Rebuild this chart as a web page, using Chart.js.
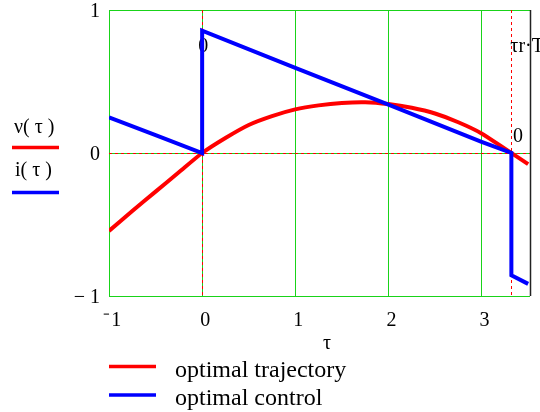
<!DOCTYPE html>
<html>
<head>
<meta charset="utf-8">
<script src="https://cdn.jsdelivr.net/npm/chart.js@4.4.1/dist/chart.umd.min.js"></script>
<style>
html,body{margin:0;padding:0;background:#fff;}
#wrap{width:540px;height:412px;position:relative;}
</style>
</head>
<body>
<div id="wrap"><canvas id="c" width="540" height="412"></canvas></div>
<script>
// ---- data ----
const tauTraj = [-1, -0.75, -0.5, -0.25, 0, 0.25, 0.5, 0.75, 1, 1.25, 1.5, 1.75, 2, 2.25, 2.5, 2.75, 3, 3.25, 3.5];
const nuTraj  = [-0.545, -0.405, -0.27, -0.135, 0, 0.105, 0.196, 0.258, 0.305, 0.333, 0.35, 0.355, 0.342, 0.316, 0.276, 0.215, 0.137, 0.03, -0.078];
const tauCtrl = [-1, -0.5, 0, 0, 1, 2, 3, 3.32, 3.32, 3.5];
const iCtrl   = [0.25, 0.125, 0, 0.855, 0.595, 0.338, 0.078, 0, -0.855, -0.915];

const xTicks = [-1, 0, 1, 2, 3];
const xTickLabels = ['\u207b\u200a1', '0', '1', '2', '3'];
const yTicks = [-1, 0, 1];
const yTickLabels = ['\u2212 1', '0', '1'];

const xMarkers = [0, 3.32];
const xMarkerLabels = ['0', '\u03c4r\u00b7T'];
const xMarkerShift = [-4, -1];
const yMarkers = [0];
const yMarkerLabels = ['0'];

const seriesNames = ['optimal trajectory', 'optimal control'];
const axisNames = ['\u03bd( \u03c4 )', 'i( \u03c4 )'];
const xTitle = '\u03c4';

const RED = '#ff0000', BLUE = '#0000ff', GREEN = '#19d319';
const FONT = '"Liberation Serif", "Times New Roman", serif';

const markerPlugin = {
  id: 'markers',
  beforeDatasetsDraw(chart) {
    const ctx = chart.ctx, a = chart.chartArea;
    const xs = chart.scales.x, ys = chart.scales.y;
    ctx.save();
    ctx.strokeStyle = RED;
    ctx.lineWidth = 1;
    ctx.setLineDash([3, 3]);
    xMarkers.forEach((v) => {
      const px = Math.round(xs.getPixelForValue(v)) + 0.5;
      ctx.beginPath(); ctx.moveTo(px, a.top); ctx.lineTo(px, a.bottom); ctx.stroke();
    });
    yMarkers.forEach((v) => {
      const py = Math.round(ys.getPixelForValue(v)) + 0.5;
      ctx.beginPath(); ctx.moveTo(a.left, py); ctx.lineTo(a.right, py); ctx.stroke();
    });
    ctx.setLineDash([]);
    ctx.fillStyle = '#000';
    ctx.font = '20px ' + FONT;
    ctx.textBaseline = 'alphabetic';
    ctx.textAlign = 'left';
    xMarkers.forEach((v, i) => {
      const px = xs.getPixelForValue(v);
      ctx.fillText(xMarkerLabels[i], px + xMarkerShift[i], a.top + 42);
    });
    yMarkers.forEach((v, i) => {
      const py = ys.getPixelForValue(v);
      ctx.textAlign = 'right';
      ctx.fillText(yMarkerLabels[i], a.right - 7, py - 11);
    });
    ctx.restore();
  },
  afterDraw(chart) {
    const ctx = chart.ctx, a = chart.chartArea;
    ctx.save();
    // right frame
    ctx.strokeStyle = '#222';
    ctx.lineWidth = 1.5;
    ctx.beginPath(); ctx.moveTo(a.right + 0.5, a.top); ctx.lineTo(a.right + 0.5, a.bottom); ctx.stroke();
    // axis title
    ctx.fillStyle = '#000';
    ctx.font = '20px ' + FONT;
    ctx.textAlign = 'center';
    ctx.textBaseline = 'alphabetic';
    ctx.fillText(xTitle, 327, 349);
    // left legend (axis names)
    ctx.font = '20px ' + FONT;
    ctx.textAlign = 'left';
    ctx.fillText(axisNames[0], 14, 133);
    ctx.fillText(axisNames[1], 15, 176);
    ctx.lineWidth = 3.5;
    ctx.strokeStyle = RED;
    ctx.beginPath(); ctx.moveTo(12, 147.5); ctx.lineTo(59, 147.5); ctx.stroke();
    ctx.strokeStyle = BLUE;
    ctx.beginPath(); ctx.moveTo(12, 192.5); ctx.lineTo(59, 192.5); ctx.stroke();
    // bottom legend
    ctx.strokeStyle = RED;
    ctx.beginPath(); ctx.moveTo(109, 366.5); ctx.lineTo(156, 366.5); ctx.stroke();
    ctx.strokeStyle = BLUE;
    ctx.beginPath(); ctx.moveTo(109, 395); ctx.lineTo(156, 395); ctx.stroke();
    ctx.font = '24px ' + FONT;
    ctx.fillText(seriesNames[0], 175, 377);
    ctx.fillText(seriesNames[1], 175, 405);
    ctx.restore();
  }
};

new Chart(document.getElementById('c'), {
  type: 'scatter',
  data: {
    datasets: [
      {
        label: seriesNames[1],
        data: tauCtrl.map((t, i) => ({x: t, y: iCtrl[i]})),
        showLine: true, borderColor: BLUE, backgroundColor: BLUE,
        borderWidth: 4, pointRadius: 0, tension: 0, order: 0,
        borderJoinStyle: 'miter'
      },
      {
        label: seriesNames[0],
        data: tauTraj.map((t, i) => ({x: t, y: nuTraj[i]})),
        showLine: true, borderColor: RED, backgroundColor: RED,
        borderWidth: 4, pointRadius: 0, tension: 0.2, order: 1
      }
    ]
  },
  options: {
    responsive: false,
    animation: false,
    devicePixelRatio: 1,
    layout: { padding: { top: 0, right: 10, left: 0, bottom: 0 } },
    plugins: { legend: { display: false }, tooltip: { enabled: false } },
    scales: {
      x: {
        type: 'linear', min: -1, max: 3.52,
        afterBuildTicks: s => { s.ticks = xTicks.map(v => ({value: v})); },
        afterFit: s => { s.height = 116; },
        ticks: {
          callback: (v) => { const k = xTicks.indexOf(v); return k >= 0 ? xTickLabels[k] : ''; },
          font: { family: FONT, size: 20 }, color: '#000',
          padding: 13, labelOffset: 3, maxRotation: 0, autoSkip: false
        },
        grid: { color: GREEN, lineWidth: 1, drawTicks: false },
        border: { display: false }
      },
      y: {
        type: 'linear', min: -1, max: 1,
        afterBuildTicks: s => { s.ticks = yTicks.map(v => ({value: v})); },
        afterFit: s => { s.width = 109; s.paddingTop = 10; },
        ticks: {
          callback: (v) => { const k = yTicks.indexOf(v); return k >= 0 ? yTickLabels[k] : ''; },
          font: { family: FONT, size: 20 }, color: '#000',
          padding: 9, labelOffset: 2, autoSkip: false
        },
        grid: { color: GREEN, lineWidth: 1, drawTicks: false },
        border: { display: false }
      }
    }
  },
  plugins: [markerPlugin]
});
</script>
</body>
</html>
